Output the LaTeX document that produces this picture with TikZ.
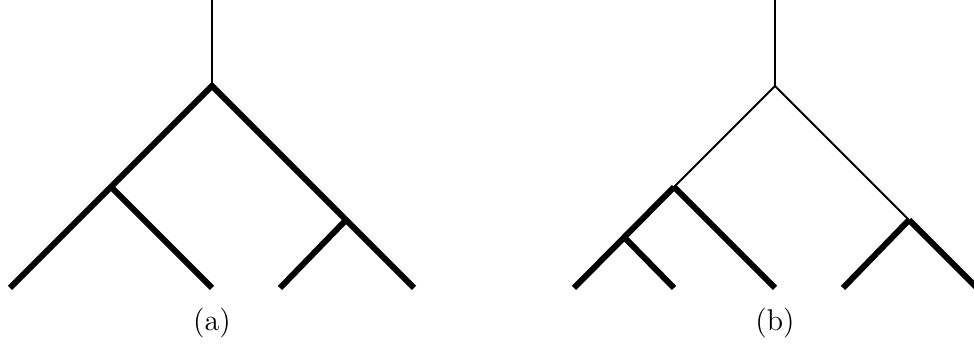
\documentclass[tikz,border=0pt]{standalone}
\begin{document}
\begin{tikzpicture}[x=0.4pt,y=-0.4pt,
  thickedge/.style={line width=2.4pt,line join=miter},
  thinedge/.style={line width=0.8pt},
  lbl/.style={inner sep=0pt,font=\fontsize{12}{14}\selectfont}]
\useasboundingbox (0,0) rectangle (974,344);
% tree (a)
\coordinate (at) at (212,0);
\coordinate (ar) at (212,86);
\coordinate (al) at (111,187);
\coordinate (aR) at (346,220);
\coordinate (a1) at (10,288);
\coordinate (a2) at (212,288);
\coordinate (a3) at (280,288);
\coordinate (a4) at (414,288);
\draw[thinedge] (at) -- (ar);
\draw[thickedge] (a1) -- (ar) -- (a4);
\draw[thickedge] (al) -- (a2);
\draw[thickedge] (aR) -- (a3);
\node[lbl] (la) at (212,323) {(a)};
% tree (b)
\coordinate (bt) at (775,0);
\coordinate (br) at (775,86);
\coordinate (bl) at (674,187);
\coordinate (bs) at (624,237);
\coordinate (bR) at (909,220);
\coordinate (b1) at (574,288);
\coordinate (b2) at (674,288);
\coordinate (b3) at (775,288);
\coordinate (b4) at (843,288);
\coordinate (b5) at (977,288);
\draw[thinedge] (bt) -- (br);
\draw[thinedge] (bl) -- (br) -- (bR);
\draw[thickedge] (bl) -- (b1);
\draw[thickedge] (bl) -- (b3);
\draw[thickedge] (bs) -- (b2);
\draw[thickedge] (bR) -- (b4);
\draw[thickedge] (bR) -- (b5);
\node[lbl] (lb) at (775,323) {(b)};
\end{tikzpicture}
\end{document}
